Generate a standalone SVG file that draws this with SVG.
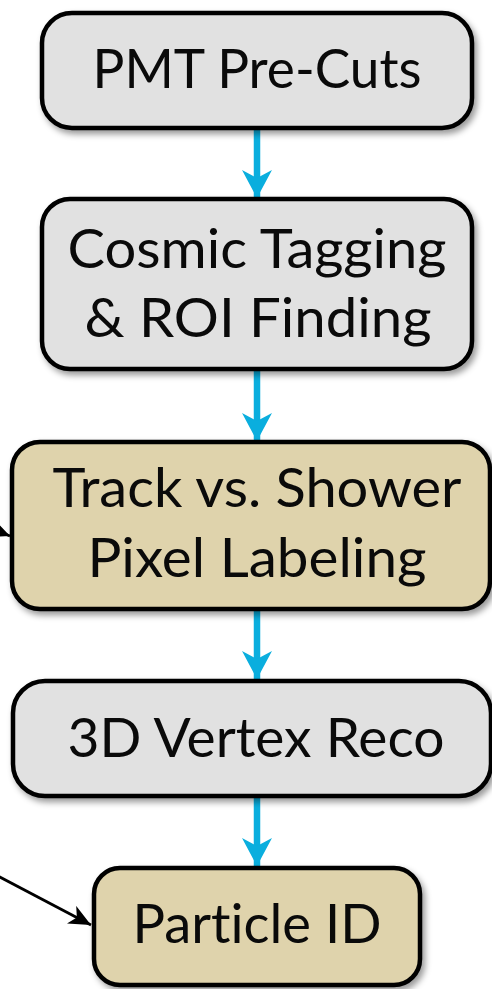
<svg xmlns="http://www.w3.org/2000/svg" width="492" height="989" viewBox="0 0 492 989">
  <style>
    .box { stroke: #000; stroke-width: 4.5; filter: url(#shadow); }
    .gray { fill: #e1e1e1; }
    .tan { fill: #dfd3ac; }
    .label { font-family: "Lato", "Open Sans", sans-serif; font-size: 54px; fill: #0a0a0a; text-anchor: middle; font-variant-ligatures: none; font-feature-settings: "liga" 0, "dlig" 0; }
    .flow { stroke: #0aaede; stroke-width: 6.5; fill: none; }
    .side { stroke: #000; stroke-width: 2.8; fill: none; }
  </style>
  <defs>
    <filter id="shadow" x="-10%" y="-10%" width="125%" height="130%">
      <feDropShadow dx="3" dy="4" stdDeviation="3" flood-color="#000" flood-opacity="0.4"/>
    </filter>
    <marker id="blueHead" markerUnits="userSpaceOnUse" markerWidth="32" markerHeight="30" refX="28" refY="15" orient="auto">
      <path d="M0,0 L28,15 L0,30 L8,15 Z" fill="#0aaede"/>
    </marker>
    <marker id="blackHead" markerUnits="userSpaceOnUse" markerWidth="24" markerHeight="20" refX="22" refY="10" orient="auto">
      <path d="M0,0 L22,10 L0,20 L6,10 Z" fill="#000"/>
    </marker>
  </defs>

  <g id="connectors">
    <line class="flow" x1="257" y1="130" x2="257" y2="198" marker-end="url(#blueHead)"/>
    <line class="flow" x1="257" y1="370" x2="257" y2="441" marker-end="url(#blueHead)"/>
    <line class="flow" x1="257" y1="610" x2="257" y2="679" marker-end="url(#blueHead)"/>
    <line class="flow" x1="257" y1="797" x2="257" y2="866" marker-end="url(#blueHead)"/>
    <line class="side" x1="-2" y1="876" x2="91" y2="925" marker-end="url(#blackHead)"/>
    <line class="side" x1="-10" y1="528" x2="10" y2="536" marker-end="url(#blackHead)"/>
  </g>

  <g id="pmt-precuts">
    <rect class="box gray" x="42" y="13" width="430" height="115" rx="30"/>
    <text class="label" x="257" y="88" textLength="329" lengthAdjust="spacingAndGlyphs">PMT Pre-Cuts</text>
  </g>

  <g id="cosmic-tagging">
    <rect class="box gray" x="42" y="199" width="430" height="170" rx="28"/>
    <text class="label" x="257" y="268" textLength="379" lengthAdjust="spacingAndGlyphs">Cosmic Tagging</text>
    <text class="label" x="258" y="337" textLength="347" lengthAdjust="spacingAndGlyphs">&amp; ROI Finding</text>
  </g>

  <g id="pixel-labeling">
    <rect class="box tan" x="12" y="442" width="478" height="167" rx="28"/>
    <text class="label" x="257" y="507" textLength="409" lengthAdjust="spacingAndGlyphs">Track vs. Shower</text>
    <text class="label" x="257" y="577" textLength="339" lengthAdjust="spacingAndGlyphs">Pixel Labeling</text>
  </g>

  <g id="vertex-reco">
    <rect class="box gray" x="13" y="681" width="478" height="115" rx="32"/>
    <text class="label" x="256" y="757" textLength="377" lengthAdjust="spacingAndGlyphs">3D Vertex Reco</text>
  </g>

  <g id="particle-id">
    <rect class="box tan" x="94" y="868" width="326" height="117" rx="26"/>
    <text class="label" x="257" y="943" textLength="249" lengthAdjust="spacingAndGlyphs">Particle ID</text>
  </g>
</svg>
